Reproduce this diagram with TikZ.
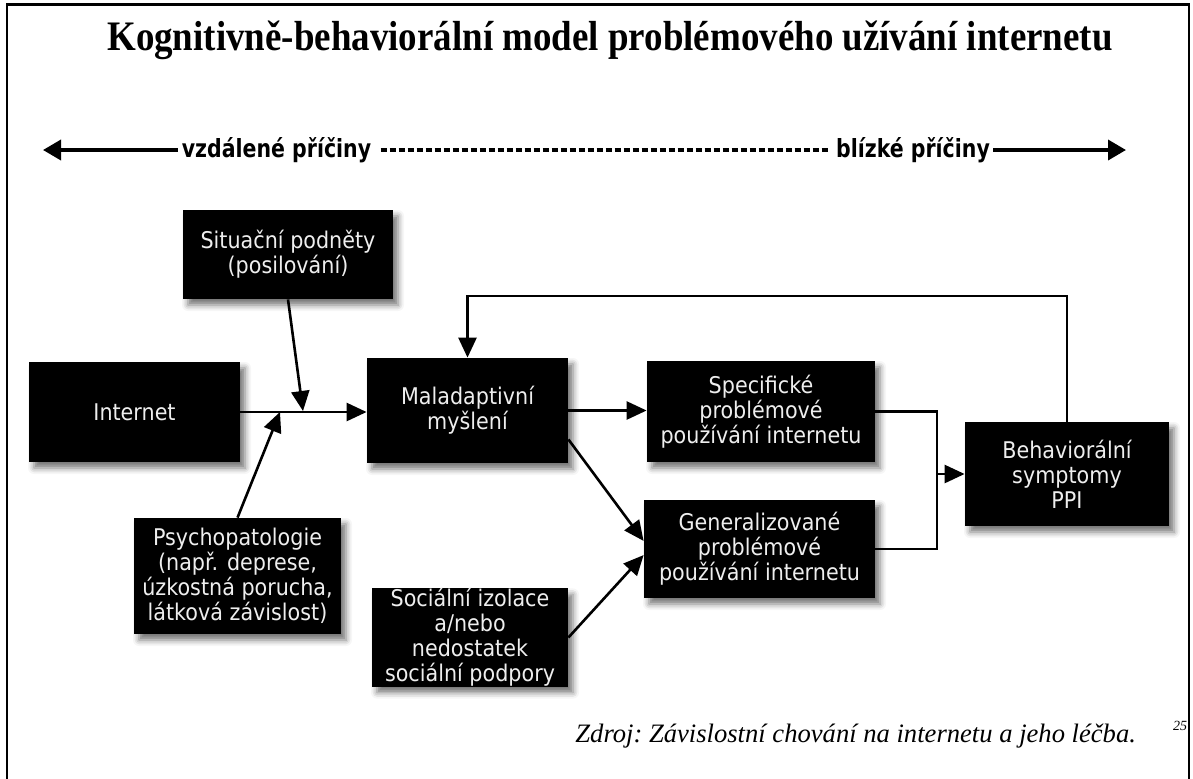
\documentclass[tikz,border=0pt]{standalone}
\usepackage{fontspec}
\setmainfont{Liberation Serif}
\newfontfamily\boxfont[FakeStretch=0.9]{DejaVu Sans}
\newfontfamily\labelfont[FakeStretch=0.82]{DejaVu Sans}
\newfontfamily\titlefont[FakeStretch=0.88]{Liberation Serif}
\usetikzlibrary{arrows.meta, calc, shadows.blur}

\begin{document}
\begin{tikzpicture}[
    x=0.5pt, y=-0.5pt,
    every node/.style={font=\boxfont},
    box/.style={fill=black, text=boxtext, align=center, inner sep=0pt,
        font=\boxfont\fontsize{11.5}{12.5}\selectfont,
        blur shadow={shadow xshift=2.5pt, shadow yshift=-3pt,
                     shadow blur radius=3pt, shadow opacity=55}},
    link/.style={line width=1.3pt, -{Triangle[length=10pt, width=9pt]}},
    joinline/.style={line width=1.3pt},
]

\definecolor{boxtext}{HTML}{EEEEEE}

\useasboundingbox (0,0) rectangle (1193,778);

% ------------------------------------------------------------ frame and title
\draw[line width=1.3pt] (7,800) -- (7,4.5) -- (1189,4.5) -- (1189,800);

\node[font=\titlefont\bfseries\fontsize{21}{25}\selectfont, anchor=base]
    (title) at (610,50) {Kognitivně-behaviorální model problémového užívání internetu};

% ------------------------------------------------------------ causes axis
\coordinate (leftend) at (43,150);
\coordinate (rightend) at (1126,150);
\node[font=\labelfont\bfseries\fontsize{12.5}{14}\selectfont, inner sep=1.5pt]
    (far) at (276.5,150) {vzdálené příčiny};
\node[font=\labelfont\bfseries\fontsize{12.5}{14}\selectfont, inner sep=1.5pt]
    (near) at (913,150) {blízké příčiny};

\draw[line width=1.8pt, {Triangle[length=9pt, width=10pt]}-] (leftend) -- (far.west);
\draw[line width=1.6pt, dash pattern=on 3pt off 1.5pt, shorten <=3pt, shorten >=2pt]
    (far.east) -- (near.west);
\draw[line width=1.8pt, -{Triangle[length=9pt, width=10pt]}] (near.east) -- (rightend);

% ------------------------------------------------------------ boxes
\node[box, minimum width=105pt, minimum height=44.5pt] (situ) at (288,254.5)
    {Situační podněty\\(posilování)};
\node[box, minimum width=105.5pt, minimum height=50pt] (inet) at (134.5,412)
    {Internet};
\node[box, minimum width=103.5pt, minimum height=58pt] (psych) at (237.5,576)
    {Psychopatologie\\(např. deprese,\\úzkostná porucha,\\látková závislost)};
\node[box, minimum width=100.5pt, minimum height=52.5pt] (malad) at (467.5,410.5)
    {Maladaptivní\\myšlení};
\node[box, minimum width=98pt, minimum height=48.5pt] (soc) at (470,637.5)
    {Sociální izolace\\a/nebo\\nedostatek\\sociální podpory};
\node[box, minimum width=114pt, minimum height=50.5pt] (spec) at (761,411.5)
    {Specifické\\problémové\\používání internetu};
\node[box, minimum width=115.5pt, minimum height=49pt] (gen) at (759.5,549)
    {Generalizované\\problémové\\používání internetu};
\node[box, minimum width=102pt, minimum height=52pt] (behav) at (1067,474)
    {Behaviorální\\symptomy\\PPI};

% ------------------------------------------------------------ connectors
\coordinate (j1) at (303,411);
\coordinate (j2) at (280,412);
\coordinate (merge) at (937,474);
\coordinate (loop) at (467.5,296);

\draw[link] (inet.east) -- (inet.east -| malad.west);
\draw[link] (situ.south) -- (j1);
\draw[link] (psych.north) -- (j2);
\draw[link] (malad.east) -- (malad.east -| spec.west);
\draw[link] (malad.-16) -- (gen.176);
\draw[link] (soc.east) -- (gen.183);
\draw[joinline] (spec.east) -| (merge);
\draw[joinline] (gen.east) -| (merge);
\draw[link] (merge) -- (behav.west);
\draw[link] (behav.north) |- (loop) -- (malad.north);

% ------------------------------------------------------------ source
\node[font=\rmfamily\itshape\fontsize{13.3}{16}\selectfont, anchor=base east]
    (source) at (1143,742) {\frenchspacing Zdroj: Závislostní chování na internetu a jeho léčba.};
\node[font=\rmfamily\itshape\fontsize{7}{8}\selectfont, anchor=base west]
    (note) at (1166,730) {25};

\end{tikzpicture}
\end{document}
